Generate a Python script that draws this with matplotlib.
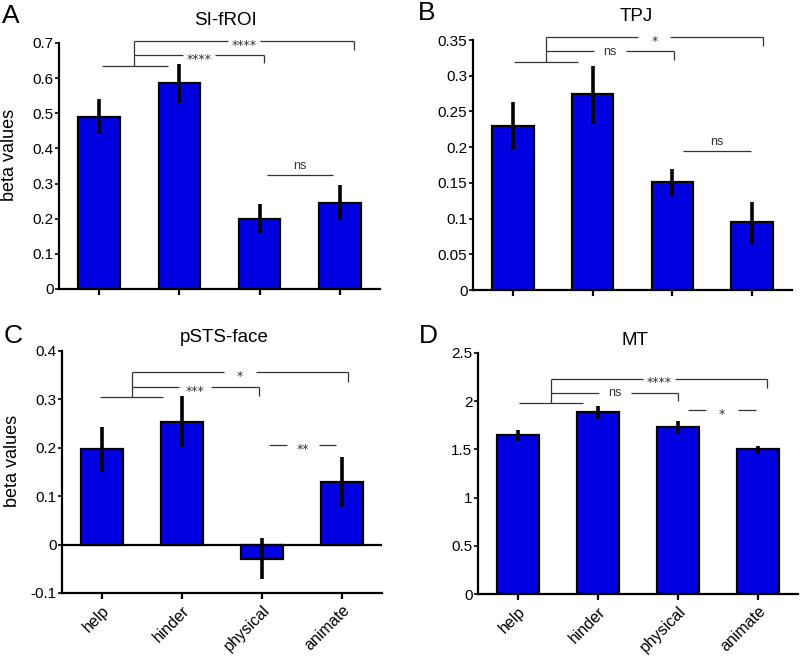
import matplotlib
matplotlib.use("Agg")
import matplotlib.pyplot as plt
import matplotlib.transforms as mtransforms

plt.rcParams['font.family'] = ['Liberation Sans', 'DejaVu Sans']

W, H = 802, 662

categories = ["help", "hinder", "physical", "animate"]

# ---- data ----
sifroi_vals = [0.490, 0.585, 0.200, 0.245]
sifroi_lo = [0.440, 0.530, 0.160, 0.195]
sifroi_hi = [0.540, 0.640, 0.243, 0.297]

tpj_vals = [0.230, 0.274, 0.151, 0.095]
tpj_lo = [0.197, 0.233, 0.131, 0.065]
tpj_hi = [0.263, 0.313, 0.170, 0.123]

psts_vals = [0.198, 0.254, -0.030, 0.129]
psts_lo = [0.150, 0.201, -0.071, 0.078]
psts_hi = [0.244, 0.306, 0.014, 0.182]

mt_vals = [1.645, 1.889, 1.731, 1.499]
mt_lo = [1.585, 1.820, 1.658, 1.450]
mt_hi = [1.700, 1.948, 1.796, 1.540]

titles = ["SI-fROI", "TPJ", "pSTS-face", "MT"]
letters = ["A", "B", "C", "D"]

yticks_A = [0, 0.1, 0.2, 0.3, 0.4, 0.5, 0.6, 0.7]
yticks_B = [0, 0.05, 0.1, 0.15, 0.2, 0.25, 0.3, 0.35]
yticks_C = [-0.1, 0, 0.1, 0.2, 0.3, 0.4]
yticks_D = [0, 0.5, 1, 1.5, 2, 2.5]

# significance brackets: group line (x0, x1, y), vertical x, comparisons (y, x_end, y_drop, label)
brk_A = dict(group=(0.04, 0.86, 0.635), xv=0.44,
             comps=[(0.665, 2.06, 0.643, "****"), (0.705, 3.18, 0.680, "****")],
             pair=(2.09, 2.92, 0.324, "ns", "above"))
brk_B = dict(group=(0.02, 0.82, 0.319), xv=0.41,
             comps=[(0.334, 2.02, 0.322, "ns"), (0.354, 3.14, 0.342, "*")],
             pair=(2.13, 2.98, 0.195, "ns", "above"))
brk_C = dict(group=(-0.03, 0.76, 0.304), xv=0.375,
             comps=[(0.326, 1.96, 0.308, "***"), (0.356, 3.08, 0.336, "*")],
             pair=(2.09, 2.93, 0.205, "**", "gap"))
brk_D = dict(group=(0.01, 0.81, 1.982), xv=0.415,
             comps=[(2.09, 2.00, 2.00, "ns"), (2.235, 3.11, 2.14, "****")],
             pair=(2.13, 2.97, 1.907, "*", "gap"))

panels = [
    dict(vals=sifroi_vals, lo=sifroi_lo, hi=sifroi_hi, yticks=yticks_A, ylim=(0, 0.7),
         box=(59, 380, 43, 289), brk=brk_A, ylabel=True, xlabels=False,
         title_xy=(225, 25), letter_xy=(2, 23)),
    dict(vals=tpj_vals, lo=tpj_lo, hi=tpj_hi, yticks=yticks_B, ylim=(0, 0.35),
         box=(473, 792, 40, 290), brk=brk_B, ylabel=False, xlabels=False,
         title_xy=(636, 21), letter_xy=(418, 20)),
    dict(vals=psts_vals, lo=psts_lo, hi=psts_hi, yticks=yticks_C, ylim=(-0.1, 0.4),
         box=(62, 382, 351, 593), brk=brk_C, ylabel=True, xlabels=True,
         title_xy=(224, 342), letter_xy=(4, 343)),
    dict(vals=mt_vals, lo=mt_lo, hi=mt_hi, yticks=yticks_D, ylim=(0, 2.5),
         box=(478, 798, 353, 594), brk=brk_D, ylabel=False, xlabels=True,
         title_xy=(635, 345), letter_xy=(419, 343)),
]

BAR_COLOR = "#0000e0"
LINE_COLOR = "#333333"
GAP = 0.2  # half gap around comparison labels (data units)
ANN_FS = 9


def fmt(v):
    s = ("%.2f" % v).rstrip("0").rstrip(".")
    if s == "-0":
        s = "0"
    return s


def label_text(ax, x, y, s, mode):
    fs = ANN_FS
    if mode == "above":
        ax.text(x, y, s, ha="center", va="bottom", fontsize=fs, color=LINE_COLOR,
                transform=ax.transData + mtransforms.ScaledTranslation(0, 2 / 72, ax.figure.dpi_scale_trans),
                clip_on=False)
    else:
        if "*" in s:
            off = -0.62 * fs
            fam = ["DejaVu Sans"]
        else:
            off = -0.27 * fs
            fam = ["Liberation Sans"]
        ax.text(x, y, s, ha="center", va="baseline", fontsize=fs, color=LINE_COLOR, family=fam,
                transform=ax.transData + mtransforms.ScaledTranslation(0, off / 72, ax.figure.dpi_scale_trans),
                clip_on=False)


def hline_gap(ax, x0, x1, y, s):
    xm = (x0 + x1) / 2
    kw = dict(color=LINE_COLOR, lw=0.9, clip_on=False, solid_capstyle="butt")
    ax.plot([x0, xm - GAP], [y, y], **kw)
    ax.plot([xm + GAP, x1], [y, y], **kw)
    label_text(ax, xm, y, s, "gap")


fig = plt.figure(figsize=(W / 100, H / 100), dpi=100)

for i, p in enumerate(panels):
    l, r, t, b = p["box"]
    ax = fig.add_axes([l / W, 1 - b / H, (r - l) / W, (b - t) / H])
    x = list(range(len(categories)))
    ax.bar(x, p["vals"], width=0.52, color=BAR_COLOR, edgecolor="black", linewidth=1.6, zorder=2)
    yerr = [[v - lo for v, lo in zip(p["vals"], p["lo"])], [hi - v for v, hi in zip(p["vals"], p["hi"])]]
    ax.errorbar(x, p["vals"], yerr=yerr, fmt="none", ecolor="black", elinewidth=2.6, capsize=0, zorder=3)
    ax.set_xlim(-0.5, 3.5)
    ax.set_ylim(*p["ylim"])
    ax.set_yticks(p["yticks"])
    ax.set_yticklabels([fmt(v) for v in p["yticks"]], fontsize=11)
    ax.set_xticks(x)
    if p["xlabels"]:
        ax.set_xticklabels(categories, rotation=45, ha="right", rotation_mode="anchor", fontsize=11.5)
    else:
        ax.set_xticklabels([])
    for s in ["top", "right"]:
        ax.spines[s].set_visible(False)
    for s in ["left", "bottom"]:
        ax.spines[s].set_linewidth(1.6)
    ax.tick_params(axis="x", length=4, width=1.6, direction="out", pad=3)
    ax.tick_params(axis="y", length=3, width=1.2, direction="out", pad=1)
    if p["ylim"][0] < 0:
        ax.axhline(0, color="black", lw=1.6, zorder=4)
    if p["ylabel"]:
        ax.set_ylabel("beta values", fontsize=13)
        ax.yaxis.set_label_coords(-0.128, 0.545)

    # brackets
    br = p["brk"]
    gx0, gx1, gy = br["group"]
    kw = dict(color=LINE_COLOR, lw=0.9, clip_on=False, solid_capstyle="butt")
    ax.plot([gx0, gx1], [gy, gy], **kw)
    top = max(c[0] for c in br["comps"])
    ax.plot([br["xv"], br["xv"]], [gy, top], **kw)
    for (cy, cx, cdrop, lab) in br["comps"]:
        hline_gap(ax, br["xv"], cx, cy, lab)
        ax.plot([cx, cx], [cy, cdrop], **kw)
    px0, px1, py, plab, pmode = br["pair"]
    if pmode == "above":
        ax.plot([px0, px1], [py, py], **kw)
        label_text(ax, (px0 + px1) / 2, py, plab, "above")
    else:
        hline_gap(ax, px0, px1, py, plab)

    tx, ty = p["title_xy"]
    fig.text(tx / W, 1 - ty / H, titles[i], ha="center", va="baseline", fontsize=13.5)
    lx, ly = p["letter_xy"]
    fig.text(lx / W, 1 - ly / H, letters[i], ha="left", va="baseline", fontsize=19)

fig.savefig("out.png", dpi=100)
